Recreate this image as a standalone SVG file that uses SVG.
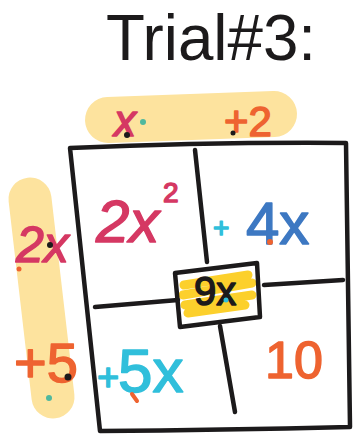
<svg xmlns="http://www.w3.org/2000/svg" width="354" height="435" viewBox="0 0 354 435">
<style>
.hl{fill:none;stroke:#fde39e;stroke-linecap:round}
.ln{fill:none;stroke:#1c1a1b;stroke-width:4.5;stroke-linecap:round;stroke-linejoin:round}
.t{font-family:"Liberation Sans",Arial,sans-serif;stroke-linejoin:round;stroke-linecap:round}
.red{fill:#d53863;stroke:#d53863;stroke-width:1.5}
.org{fill:#ee6330;stroke:#ee6330;stroke-width:1.5}
.cyn{fill:#30bfdb;stroke:#30bfdb;stroke-width:1.5}
.blu{fill:#3d78c2;stroke:#3d78c2;stroke-width:1.5}
.blk{fill:#1c1a1b;stroke:#1c1a1b;stroke-width:1.5}
</style>
<rect width="354" height="435" fill="#ffffff"/>
<g id="title"><text x="106" y="60" font-family="'Liberation Sans',Arial,sans-serif" font-size="64" fill="#1c1a1b" textLength="210" lengthAdjust="spacingAndGlyphs">Trial#3:</text></g>
<g id="highlights">
<path class="hl" d="M108,120 L274,114" stroke-width="46"/>
<path class="hl" d="M30,199 L53,397" stroke-width="43"/>
</g>
<g id="factors">
<text class="t red" x="114" y="136" font-size="44" font-style="italic">x</text>
<text class="t org" x="224" y="136" font-size="42">+2</text>
<text class="t red" x="16" y="262" font-size="50" font-style="italic">2x</text>
<text class="t org" x="14" y="382" font-size="56">+5</text>
</g>
<g id="connectors">
<path class="ln" d="M70,148 Q210,142 346,143 L350,427 Q220,430 100,431 L70,148"/>
<path class="ln" d="M195,150 L207,262"/>
<path class="ln" d="M220,326 L235,412"/>
<path class="ln" d="M95,307 L178,300"/>
<path class="ln" d="M264,285 L343,280"/>
</g>
<g id="center">
<path d="M184,285 L248,275 M183,295 L252,283 M185,305 L252,295 M188,313 L245,305" stroke="#fcd02c" stroke-width="9" stroke-linecap="round" fill="none"/>
<path class="ln" d="M175,273 L257,263 L260,317 L180,327 Z"/>
<text class="t blk" x="194" y="305" font-size="40">9x</text>
</g>
<g id="cell-x2"><text class="t red" x="96" y="242" font-size="60" font-style="italic">2x</text><text class="t red" x="163" y="202" font-size="28">2</text></g>
<g id="cell-4x"><text class="t cyn" x="213" y="237" font-size="28">+</text><text class="t blu" x="246" y="244" font-size="60">4x</text></g>
<g id="cell-5x"><text class="t cyn" x="97" y="390" font-size="38">+</text><text class="t cyn" x="118" y="392" font-size="62">5x</text></g>
<g id="cell-10"><text class="t org" x="265" y="378" font-size="52">10</text></g>
<g id="dots">
<circle cx="127" cy="135" r="3" fill="#1c1a1b"/>
<circle cx="143" cy="122" r="3" fill="#4fb89e"/>
<circle cx="233" cy="133" r="2.5" fill="#1c1a1b"/>
<circle cx="50" cy="245" r="3" fill="#1c1a1b"/>
<circle cx="19" cy="269" r="2.5" fill="#ee6330"/>
<circle cx="270" cy="242" r="3" fill="#ee6330"/>
<circle cx="68" cy="377" r="3.5" fill="#1c1a1b"/>
<circle cx="49" cy="398" r="3" fill="#4fb89e"/>
<path d="M132,394 L137,401" stroke="#ee6330" stroke-width="4" stroke-linecap="round"/>
<circle cx="226" cy="300" r="2.5" fill="#30bfdb"/>
</g>
</svg>
